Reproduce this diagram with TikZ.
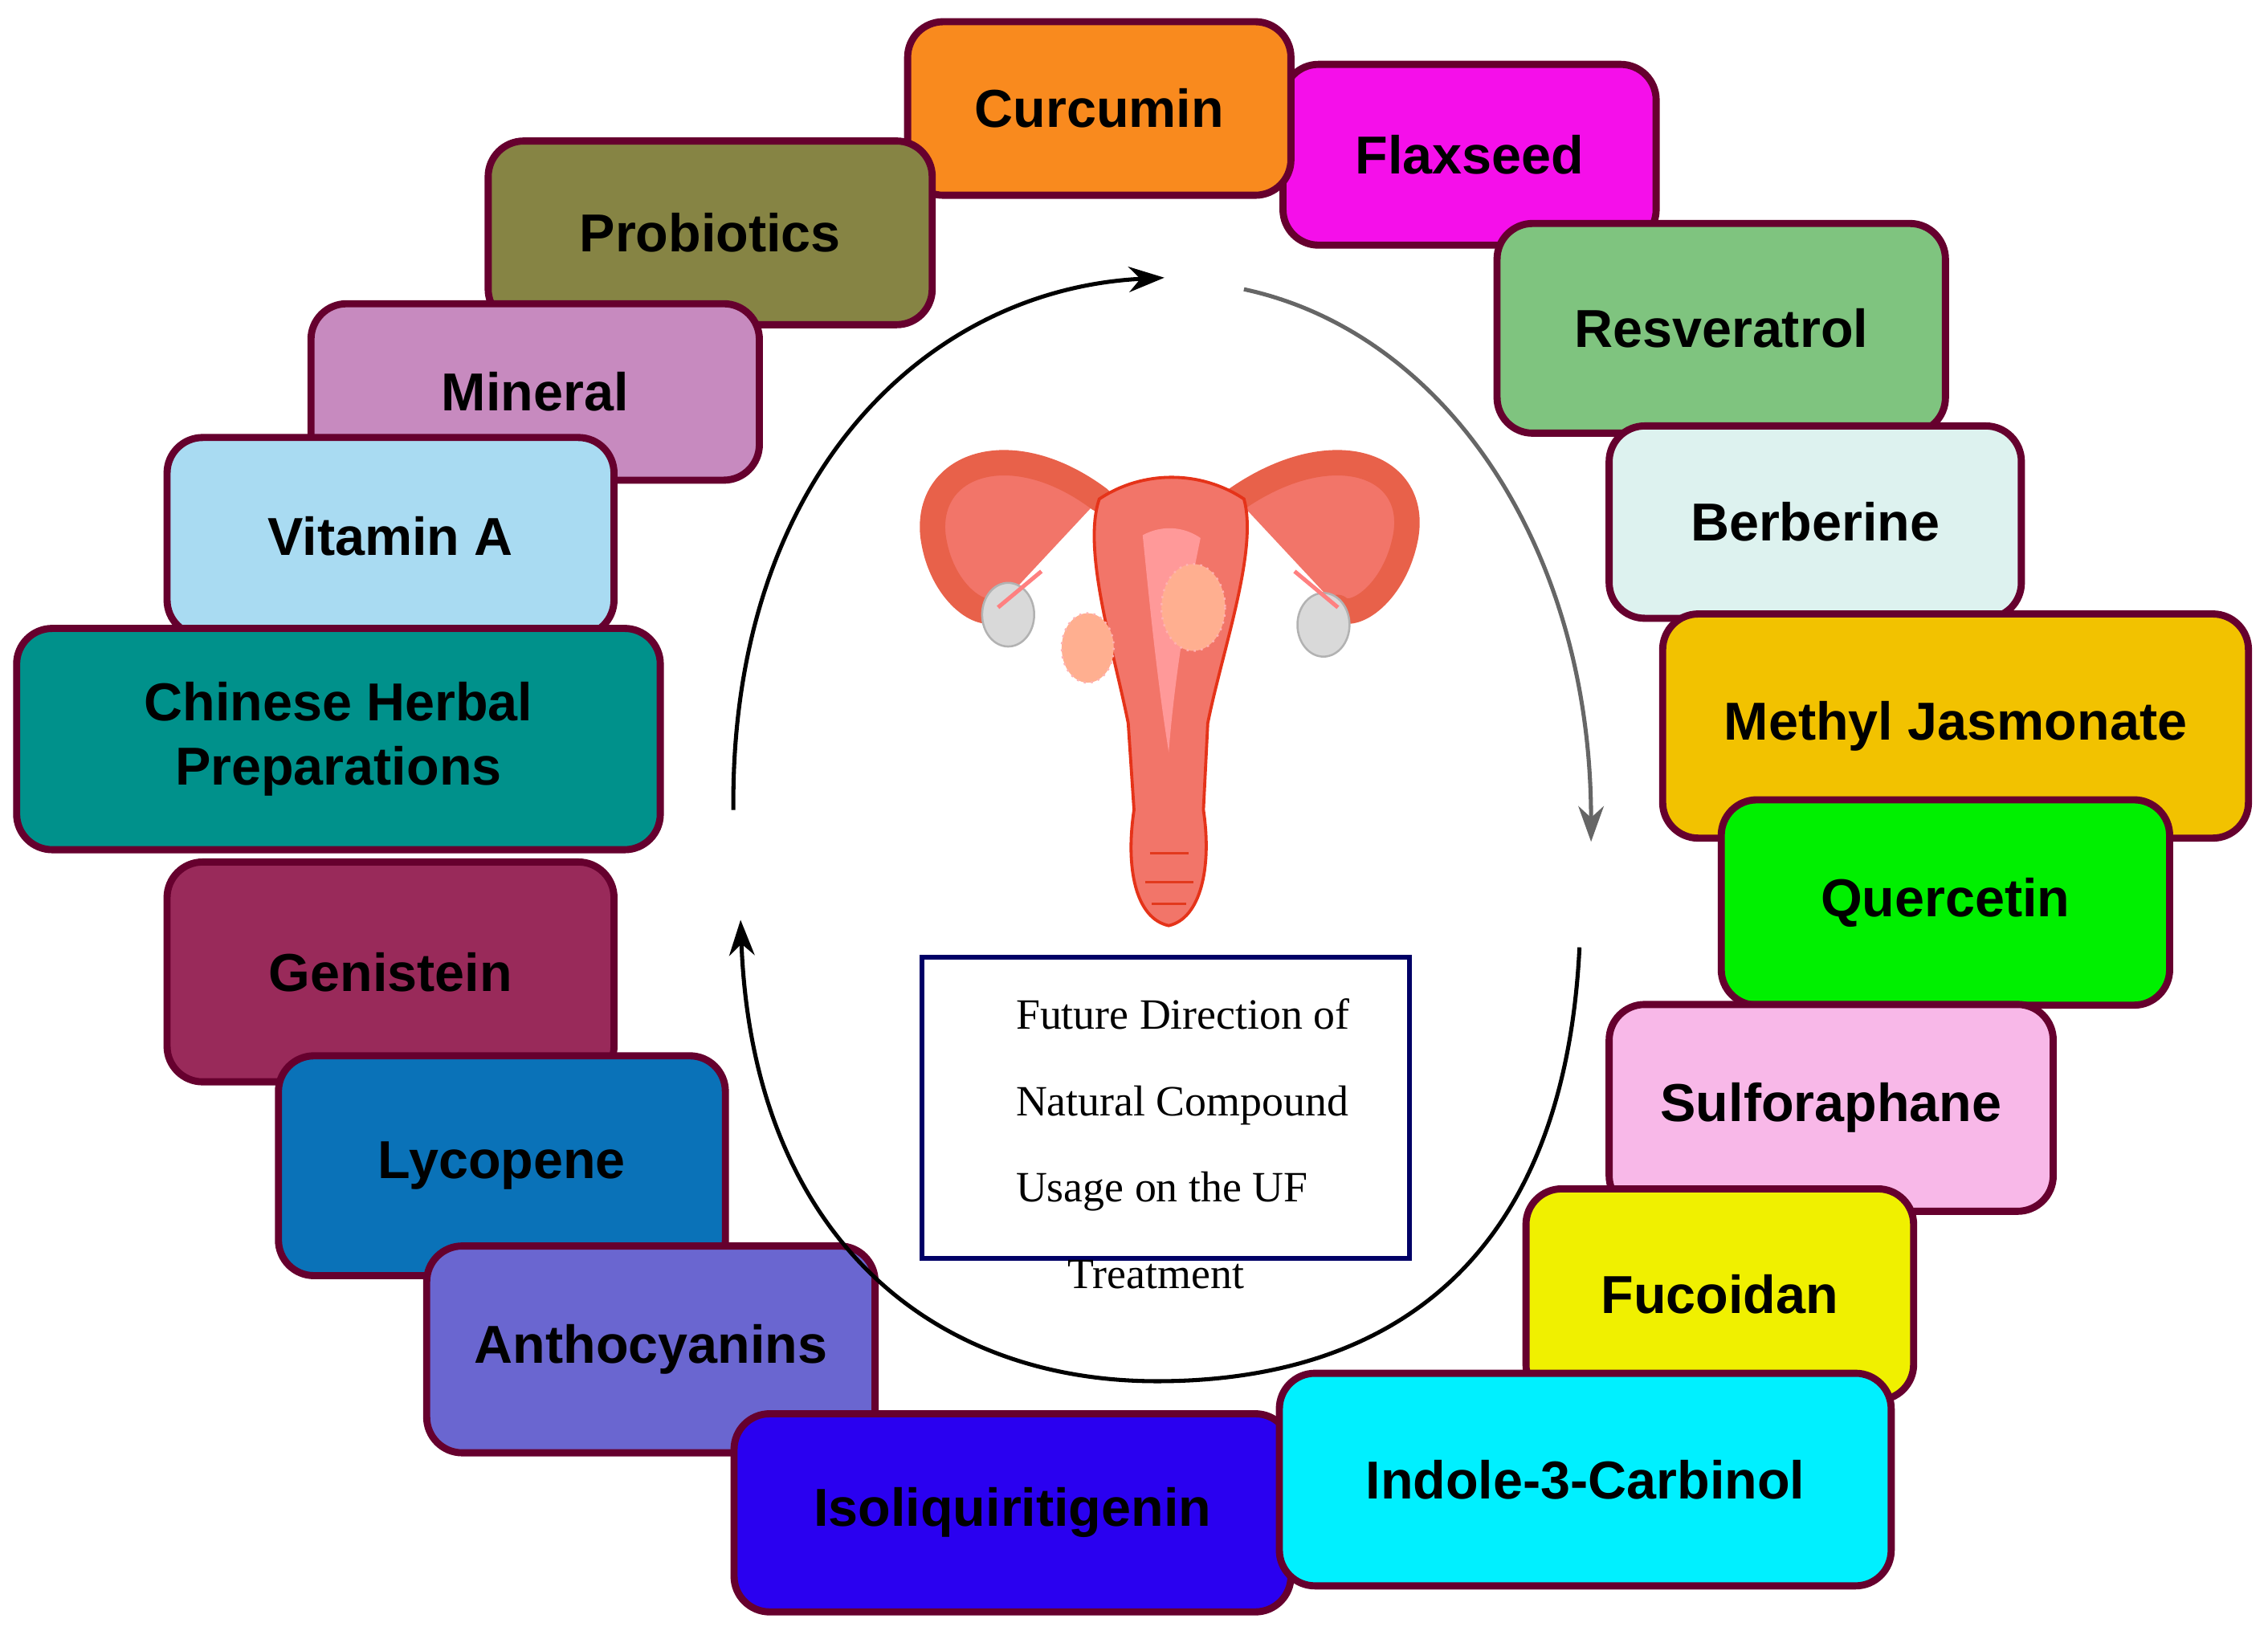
\documentclass[tikz,border=0pt]{standalone}
\usepackage{fontspec}
\setmainfont{Liberation Sans}
\newfontfamily\serifx{Liberation Serif}
\usetikzlibrary{arrows.meta}
\begin{document}
\begin{tikzpicture}[x=0.01cm,y=-0.01cm,
  box/.style={draw=black!70!blue!60!red,line width=1.4pt,rounded corners=7pt,align=center,
    font=\fontsize{10.5}{12.5}\selectfont\bfseries,inner sep=0pt},
  arc/.style={line width=0.8pt,-{Stealth[length=7pt,width=5pt]}},
  ut/.style={fill=red!40!pink!80!brown,draw=red!60!brown,line width=0.6pt}]
\useasboundingbox (0,0) rectangle (1568,1130);
\newcommand\bx[7]{\node[box,fill=#5,minimum width=#3*0.01cm,minimum height=#4*0.01cm] (#6) at (#1,#2) {#7};}
\definecolor{cOr}{HTML}{F98A1E}\definecolor{cMa}{HTML}{F50FEA}
\definecolor{cOl}{HTML}{868444}\definecolor{cGr}{HTML}{7FC47F}
\definecolor{cMi}{HTML}{C78ABF}\definecolor{cBe}{HTML}{DDF2EF}
\definecolor{cVa}{HTML}{A9DBF2}\definecolor{cCh}{HTML}{00918B}
\definecolor{cMj}{HTML}{F2C200}\definecolor{cQu}{HTML}{00F000}
\definecolor{cGe}{HTML}{992A5A}\definecolor{cSu}{HTML}{F8B8E8}
\definecolor{cLy}{HTML}{0A72B8}\definecolor{cFu}{HTML}{F0F000}
\definecolor{cAn}{HTML}{6A66D0}\definecolor{cIn}{HTML}{00F0FF}
\definecolor{cIs}{HTML}{2A00F0}
\bx{1016}{107}{258}{125}{cMa}{flax}{Flaxseed}
\bx{760}{75}{265}{120}{cOr}{curc}{Curcumin}
\bx{491}{161}{307}{127}{cOl}{prob}{Probiotics}
\bx{370}{271}{310}{122}{cMi}{mine}{Mineral}
\bx{270}{371}{309}{137}{cVa}{vita}{Vitamin A}
\bx{234}{511}{445}{153}{cCh}{chin}{Chinese Herbal\\Preparations}
\bx{270}{672}{309}{152}{cGe}{geni}{Genistein}
\bx{347}{806}{309}{152}{cLy}{lyco}{Lycopene}
\bx{450}{933}{310}{143}{cAn}{anth}{Anthocyanins}
\bx{700}{1046}{385}{137}{cIs}{isol}{Isoliquiritigenin}
\bx{1190}{227}{310}{145}{cGr}{resv}{Resveratrol}
\bx{1255}{361}{285}{133}{cBe}{berb}{Berberine}
\bx{1352}{502}{405}{155}{cMj}{meth}{Methyl Jasmonate}
\bx{1345}{624}{310}{142}{cQu}{quer}{Quercetin}
\bx{1266}{766}{307}{143}{cSu}{sulf}{Sulforaphane}
\bx{1189}{895}{268}{146}{cFu}{fuco}{Fucoidan}
\bx{1096}{1023}{423}{147}{cIn}{indo}{Indole-3-Carbinol}
% cycle arrows
\coordinate (a1) at (507,560); \coordinate (a2) at (805,192);
\coordinate (b1) at (860,200); \coordinate (b2) at (1100,582);
\coordinate (c1) at (1092,655); \coordinate (c2) at (512,636);
\draw[arc] (a1) .. controls (505,330) and (640,200) .. (a2);
\draw[arc,black!60] (b1) .. controls (1000,230) and (1100,380) .. (b2);
\draw[arc] (c1) .. controls (1080,900) and (930,955) .. (800,955) .. controls (640,955) and (520,850) .. (c2);
% uterus
\draw[ut,line width=5pt,draw=red!55!brown!80,line cap=round] (760,345) .. controls (700,300) and (640,320) .. (645,370) .. controls (650,410) and (680,430) .. (690,420);
\draw[ut,line width=5pt,draw=red!55!brown!80,line cap=round] (855,345) .. controls (920,300) and (980,320) .. (972,370) .. controls (965,410) and (935,430) .. (925,420);
\draw[ut] (760,345) .. controls (790,325) and (830,325) .. (860,345) .. controls (870,380) and (845,450) .. (835,500)
  -- (832,560) .. controls (838,600) and (830,635) .. (808,640) .. controls (785,635) and (778,600) .. (784,560)
  -- (780,500) .. controls (770,450) and (748,380) .. (760,345) -- cycle;
\fill[red!20!pink] (790,370) .. controls (805,362) and (820,365) .. (830,372) .. controls (820,420) and (812,470) .. (808,520) .. controls (800,470) and (795,420) .. (790,370);
\fill[orange!25!pink,draw=red!30,densely dotted] (825,420) circle (22 and 30);
\fill[orange!25!pink,draw=red!30,densely dotted] (752,448) circle (18 and 24);
\fill[gray!30,draw=gray!60] (697,425) circle (18 and 22);
\fill[gray!30,draw=gray!60] (915,432) circle (18 and 22);
\draw[red!50,line width=0.8pt] (690,420)--(720,395);\draw[red!50,line width=0.8pt] (925,420)--(895,395);
\draw[red!55!brown] (795,590)--(822,590) (792,610)--(825,610) (796,625)--(820,625);
% central box
\node[draw=black!60!blue,line width=1pt,minimum width=3.37cm,minimum height=2.08cm,inner sep=0pt] (fut) at (806,766) {};
\node[font=\serifx\fontsize{8.5}{17}\selectfont,align=left,anchor=north west] (futt) at (690,678) {Future Direction of\\Natural Compound\\Usage on the UF\\\hspace*{1.2em}Treatment};
\end{tikzpicture}
\end{document}
